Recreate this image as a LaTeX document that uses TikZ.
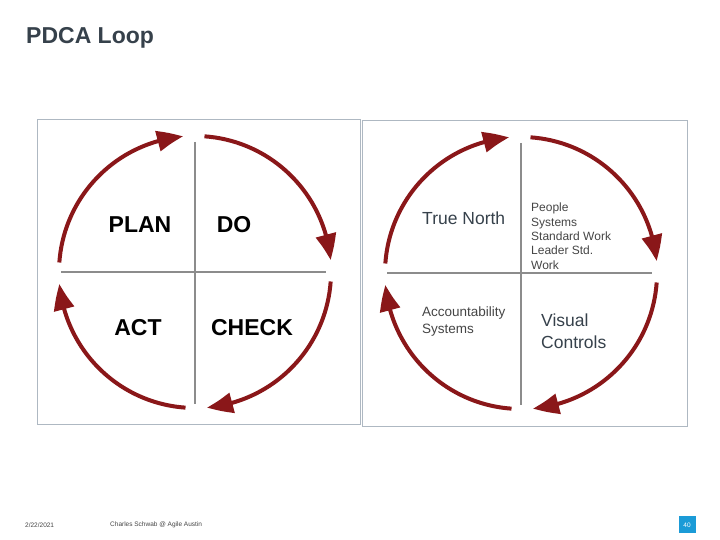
\documentclass[tikz,border=0pt]{standalone}
\usepackage{fontspec}
\setmainfont{Liberation Sans}
\usetikzlibrary{arrows.meta,bending,calc}
\definecolor{Loop}{HTML}{8A1719}
\definecolor{Rule}{HTML}{8C8C8C}
\definecolor{Frame}{HTML}{AEB8C2}
\definecolor{Slate}{HTML}{36414B}
\definecolor{Note}{HTML}{454545}
\definecolor{Badge}{HTML}{1B9BD7}
\tikzset{
  cyc/.style={draw=Loop,line width=4pt,-{Triangle[length=26pt,width=20pt,bend]}},
  axis/.style={draw=Rule,line width=1.3pt},
  panel/.style={draw=Frame,line width=1pt},
  stage/.style={font=\fontsize{23}{26}\selectfont\bfseries,inner sep=0pt},
  big/.style={font=\fontsize{17.5}{21.5}\selectfont,text=Slate,inner sep=0pt,align=left},
  small/.style={inner sep=0pt,align=left,text=Note},
  foot/.style={font=\fontsize{6.5}{8}\selectfont,text=Note,inner sep=0pt},
}
\begin{document}
\begin{tikzpicture}[x=1pt,y=1pt]
\useasboundingbox (0,0) rectangle (720,540);
\node[anchor=base west,inner sep=0pt,text=Slate,font=\fontsize{23}{26}\selectfont\bfseries] (title) at (26,496) {PDCA Loop};
\draw[panel] (37,115) rectangle (360,420);
\draw[panel] (362,113) rectangle (687,419);
\coordinate (lc) at (195,268);
\coordinate (rc) at (521,267);
\foreach \c in {lc,rc}{
  \draw[axis] ($(\c)+(-134,0)$) -- ($(\c)+(131,0)$);
  \draw[axis] ($(\c)+(0,130)$) -- ($(\c)+(0,-132)$);
  \foreach \a [evaluate=\a as \s using \a+86, evaluate=\a as \e using \a+5] in {90,0,-90,-180}
    \draw[cyc] ($(\c)+(\s:136)$) arc[start angle=\s,end angle=\e,radius=136pt];
}
\node[stage] (plan) at (140,315) {PLAN};
\node[stage] (do) at (234,315) {DO};
\node[stage] (act) at (138,212) {ACT};
\node[stage] (check) at (252,212) {CHECK};
\node[big,anchor=base west] (north) at (422,315) {True North};
\node[small,anchor=north west,font=\fontsize{12}{14.3}\selectfont] (people) at (531,337) {People\\Systems\\Standard Work\\Leader Std.\\Work};
\node[small,anchor=north west,font=\fontsize{13.5}{16.5}\selectfont] (account) at (422,233) {Accountability\\Systems};
\node[big,anchor=north west] (visual) at (541,226) {Visual\\Controls};
\node[foot,anchor=west] (date) at (25,15) {2/22/2021};
\node[foot,anchor=west] (credit) at (110,15) {Charles Schwab @ Agile Austin};
\node[fill=Badge,text=white,font=\fontsize{6.5}{8}\selectfont,minimum size=17pt,inner sep=0pt] (page) at (687,15) {40};
\end{tikzpicture}
\end{document}
